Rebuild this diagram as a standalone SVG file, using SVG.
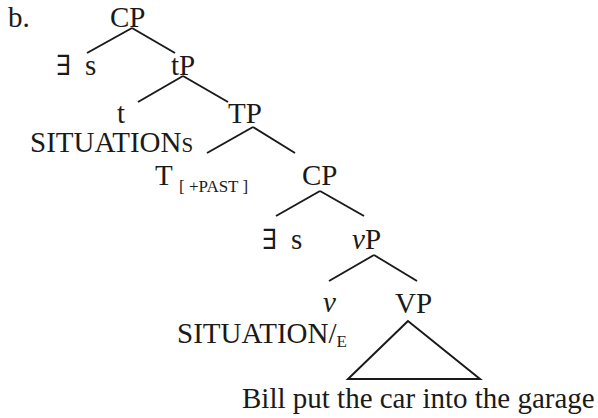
<svg xmlns="http://www.w3.org/2000/svg" width="598" height="418" viewBox="0 0 598 418">
<style>
text{font-family:"Liberation Serif","DejaVu Serif",serif;font-size:29px;fill:#1a1a1a}
.sm{font-size:17px}
.it{font-style:italic}
.ex{font-family:"DejaVu Serif",serif;font-size:28px;font-weight:300}
.edge{stroke:#1a1a1a;stroke-width:2;fill:none;stroke-linecap:butt}
</style>
<rect width="598" height="418" fill="#fff"/>
<text x="8" y="27">b.</text>
<g id="connectors">
<line class="edge" x1="132" y1="28" x2="87" y2="53"/>
<line class="edge" x1="132" y1="28" x2="175" y2="53"/>
<line class="edge" x1="183" y1="76" x2="138" y2="102"/>
<line class="edge" x1="183" y1="76" x2="228" y2="102"/>
<line class="edge" x1="253" y1="127" x2="207" y2="153"/>
<line class="edge" x1="253" y1="127" x2="295" y2="153"/>
<line class="edge" x1="320" y1="191" x2="276" y2="216"/>
<line class="edge" x1="320" y1="191" x2="364" y2="216"/>
<line class="edge" x1="374" y1="255" x2="329" y2="281"/>
<line class="edge" x1="374" y1="255" x2="417" y2="281"/>
<polygon class="edge" points="408,321 348,379 480,379"/>
</g>
<g id="n-cp1"><text x="110" y="27">CP</text></g>
<g id="n-es1"><text class="ex" x="56" y="75">∃</text><text x="85" y="75">s</text></g>
<g id="n-tp-small"><text x="171" y="75">tP</text></g>
<g id="n-t"><text x="117" y="123">t</text><text x="30" y="152">SITUATION<tspan font-size="21">S</tspan></text></g>
<g id="n-TP"><text x="228" y="123">TP</text></g>
<g id="n-T"><text x="155" y="185">T</text><text class="sm" x="179" y="192">[ +PAST ]</text></g>
<g id="n-cp2"><text x="302" y="185">CP</text></g>
<g id="n-es2"><text class="ex" x="262" y="249">∃</text><text x="291" y="249">s</text></g>
<g id="n-vp"><text x="352" y="249"><tspan class="it">v</tspan>P</text></g>
<g id="n-v"><text class="it" x="323" y="312">v</text><text x="177" y="343">SITUATION/<tspan class="sm" dy="4">E</tspan></text></g>
<g id="n-VP"><text x="395" y="313">VP</text></g>
<g id="n-terminal"><text x="242" y="408">Bill put the car into the garage</text></g>
</svg>
